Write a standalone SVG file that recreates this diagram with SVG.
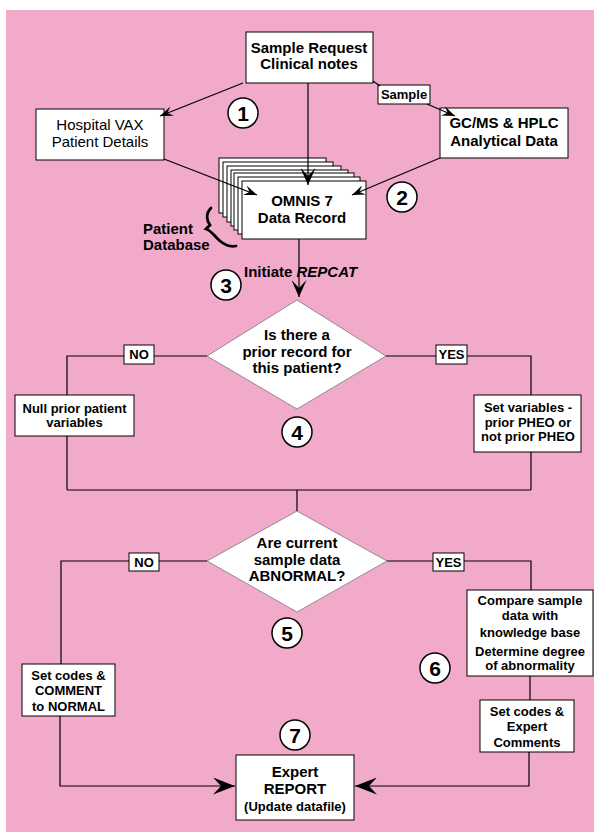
<svg xmlns="http://www.w3.org/2000/svg" width="594" height="840" viewBox="0 0 594 840">
<defs>
<style>
text{font-family:"Liberation Sans",Arial,sans-serif;font-weight:bold;fill:#000;text-anchor:middle}
.box{fill:#fff;stroke:#000;stroke-width:1}
.dia{fill:#fff;stroke:#777;stroke-width:0.8}
.lbl{fill:#fff;stroke:#000;stroke-width:1}
.ln{fill:none;stroke:#000;stroke-width:1.2}
.cir{fill:#fff;stroke:#000;stroke-width:1.5}
.num{font-size:21px}
.t15{font-size:15px}
.t13{font-size:13px}
.reg{font-weight:normal}
</style>
<marker id="aS" viewBox="0 0 13 10" refX="13" refY="5" markerWidth="13" markerHeight="10" markerUnits="userSpaceOnUse" orient="auto">
<path d="M0,0 L13,5 L0,10 L5,5 z" fill="#000"/>
</marker>
<marker id="aM" viewBox="0 0 17 15" refX="17" refY="7.5" markerWidth="17" markerHeight="15" markerUnits="userSpaceOnUse" orient="auto">
<path d="M0,0 L17,7.5 L0,15 L8,7.5 z" fill="#000"/>
</marker>
<marker id="aL" viewBox="0 0 22 17" refX="22" refY="8.5" markerWidth="22" markerHeight="17" markerUnits="userSpaceOnUse" orient="auto">
<path d="M0,0 L22,8.5 L0,17 L8,8.5 z" fill="#000"/>
</marker>
</defs>
<rect x="6" y="10" width="588" height="822" fill="#F2AACB"/>

<g id="sample-request">
<rect class="box" x="246" y="32" width="127" height="51"/>
<text class="t15" x="309" y="53">Sample Request</text>
<text class="t15" x="309" y="69">Clinical notes</text>
</g>

<g id="sample-label">
<rect class="lbl" x="378" y="85" width="52" height="19"/>
<text class="t13" x="404" y="99">Sample</text>
</g>

<g id="hospital-vax">
<rect class="box" x="36" y="109" width="128" height="51"/>
<text class="t15 reg" x="100" y="130">Hospital VAX</text>
<text class="t15 reg" x="100" y="147">Patient Details</text>
</g>

<g id="gcms">
<rect class="box" x="440" y="108" width="128" height="50"/>
<text class="t15" x="504" y="128">GC/MS &amp; HPLC</text>
<text class="t15" x="504" y="146">Analytical Data</text>
</g>

<g id="omnis">
<rect class="box" x="219" y="158" width="107" height="55"/>
<rect class="box" x="223" y="162" width="110" height="55"/>
<rect class="box" x="227" y="166" width="114" height="56"/>
<rect class="box" x="231" y="170" width="117" height="56"/>
<rect class="box" x="234" y="173" width="120" height="57"/>
<rect class="box" x="238" y="177" width="122" height="57"/>
<rect class="box" x="242" y="181" width="124" height="58"/>
<text class="t15" x="302" y="206">OMNIS 7</text>
<text class="t15" x="302" y="223">Data Record</text>
</g>

<g id="patient-database">
<path d="M211,208 C205,214 207,221 210,225 L206,229 C212,231 214,236 220,241 C226,246 231,247 236,246" fill="none" stroke="#000" stroke-width="2.8" stroke-linecap="round"/>
<text class="t15" x="143" y="234" style="text-anchor:start">Patient</text>
<text class="t15" x="143" y="250" style="text-anchor:start">Database</text>
</g>

<g id="initiate">
<text class="t15" x="244" y="277" style="text-anchor:start">Initiate <tspan font-style="italic">REPCAT</tspan></text>
</g>

<g id="decision-prior">
<polygon class="dia" points="297,300 386,356 297,409 207,356"/>
<text class="t15" x="297" y="340">Is there a</text>
<text class="t15" x="297" y="357">prior record for</text>
<text class="t15" x="297" y="373">this patient?</text>
</g>

<g id="no1">
<rect class="lbl" x="124" y="345" width="30" height="19"/>
<text class="t13" x="139" y="359">NO</text>
</g>
<g id="yes1">
<rect class="lbl" x="436" y="345" width="31" height="19"/>
<text class="t13" x="451.5" y="359">YES</text>
</g>

<g id="null-prior">
<rect class="box" x="15" y="395" width="119" height="41"/>
<text class="t13" x="74.5" y="413">Null prior patient</text>
<text class="t13" x="74.5" y="427">variables</text>
</g>

<g id="set-variables">
<rect class="box" x="474" y="395" width="107" height="57"/>
<text class="t13" x="528" y="412">Set variables -</text>
<text class="t13" x="528" y="427">prior PHEO or</text>
<text class="t13" x="528" y="441">not prior PHEO</text>
</g>

<g id="decision-abnormal">
<polygon class="dia" points="297,511 387,561 297,612 207,561"/>
<text class="t15" x="297" y="548">Are current</text>
<text class="t15" x="297" y="565">sample data</text>
<text class="t15" x="297" y="581">ABNORMAL?</text>
</g>

<g id="no2">
<rect class="lbl" x="129" y="553" width="30" height="18"/>
<text class="t13" x="144" y="567">NO</text>
</g>
<g id="yes2">
<rect class="lbl" x="433" y="553" width="31" height="18"/>
<text class="t13" x="448.5" y="567">YES</text>
</g>

<g id="compare">
<rect class="box" x="467" y="590" width="126" height="86"/>
<text class="t13" x="530" y="605">Compare sample</text>
<text class="t13" x="530" y="620">data with</text>
<text class="t13" x="530" y="637">knowledge base</text>
<text class="t13" x="530" y="656">Determine degree</text>
<text class="t13" x="530" y="670">of abnormality</text>
</g>

<g id="set-normal">
<rect class="box" x="22" y="664" width="93" height="52"/>
<text class="t13" x="68.5" y="680">Set codes &amp;</text>
<text class="t13" x="68.5" y="695">COMMENT</text>
<text class="t13" x="68.5" y="711">to NORMAL</text>
</g>

<g id="set-expert">
<rect class="box" x="480" y="700" width="94" height="52"/>
<text class="t13" x="527" y="716">Set codes &amp;</text>
<text class="t13" x="527" y="731">Expert</text>
<text class="t13" x="527" y="747">Comments</text>
</g>

<g id="expert-report">
<rect class="box" x="236" y="755" width="118" height="65"/>
<text class="t15" x="295" y="777">Expert</text>
<text class="t15" x="295" y="794">REPORT</text>
<text class="t13" x="295" y="811">(Update datafile)</text>
</g>

<g id="step1"><circle class="cir" cx="243" cy="113" r="15"/><text class="num" x="243" y="120.5">1</text></g>
<g id="step2"><circle class="cir" cx="402" cy="197" r="15"/><text class="num" x="402" y="204.5">2</text></g>
<g id="step3"><circle class="cir" cx="226" cy="285" r="15"/><text class="num" x="226" y="292.5">3</text></g>
<g id="step4"><circle class="cir" cx="297" cy="432" r="15"/><text class="num" x="297" y="439.5">4</text></g>
<g id="step5"><circle class="cir" cx="287" cy="633" r="15"/><text class="num" x="287" y="640.5">5</text></g>
<g id="step6"><circle class="cir" cx="435" cy="668" r="15"/><text class="num" x="435" y="675.5">6</text></g>
<g id="step7"><circle class="cir" cx="295" cy="735" r="15"/><text class="num" x="295" y="742.5">7</text></g>

<g id="connectors">
<line class="ln" x1="243" y1="83" x2="160" y2="116" marker-end="url(#aS)"/>
<line class="ln" x1="308" y1="83" x2="308" y2="185" marker-end="url(#aM)"/>
<line class="ln" x1="373" y1="81" x2="380" y2="86"/>
<line class="ln" x1="427" y1="104" x2="455" y2="116" marker-end="url(#aS)"/>
<line class="ln" x1="440" y1="158" x2="352" y2="195" marker-end="url(#aS)"/>
<line class="ln" x1="164" y1="159" x2="257" y2="195" marker-end="url(#aS)"/>
<line class="ln" x1="299" y1="239" x2="299" y2="297" marker-end="url(#aM)"/>
<polyline class="ln" points="207,356 154,356"/>
<polyline class="ln" points="124,356 67,356 67,395"/>
<polyline class="ln" points="386,356 436,356"/>
<polyline class="ln" points="467,356 531,356 531,395"/>
<line class="ln" x1="67" y1="436" x2="67" y2="490"/>
<line class="ln" x1="531" y1="452" x2="531" y2="490"/>
<line class="ln" x1="67" y1="490" x2="531" y2="490"/>
<line class="ln" x1="297" y1="490" x2="297" y2="511"/>
<polyline class="ln" points="207,561 159,561"/>
<polyline class="ln" points="129,561 61,561 61,664"/>
<polyline class="ln" points="387,561 433,561"/>
<polyline class="ln" points="464,561 531,561 531,590"/>
<line class="ln" x1="530" y1="676" x2="530" y2="700"/>
<polyline class="ln" points="60,716 60,786 235,786" marker-end="url(#aL)"/>
<polyline class="ln" points="529,752 529,786 355,786" marker-end="url(#aL)"/>
</g>
</svg>
